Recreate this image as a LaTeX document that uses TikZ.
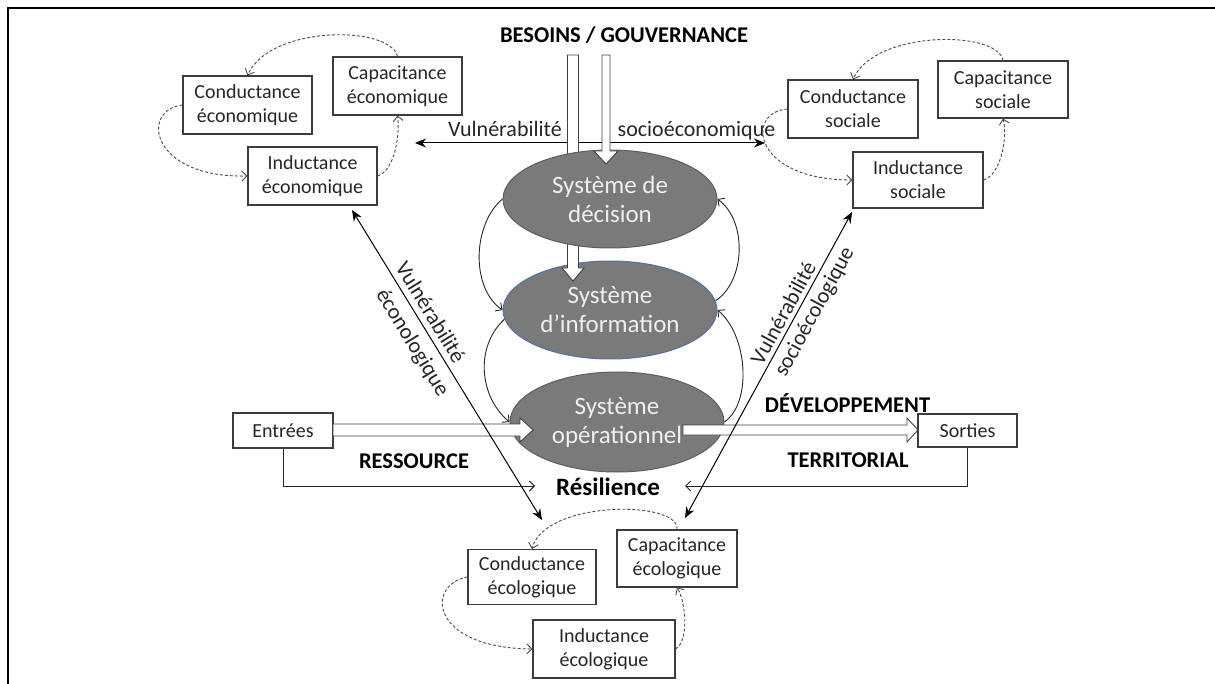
\documentclass[tikz,border=0pt]{standalone}
\usepackage{fontspec}
\setmainfont{Carlito}
\usetikzlibrary{arrows.meta,shapes.geometric}
\definecolor{boxc}{HTML}{3C3C3C}
\definecolor{txtc}{HTML}{262626}
\definecolor{ellfill}{HTML}{7A7A7A}
\definecolor{ellline}{HTML}{5E5E5E}
\definecolor{infoline}{HTML}{5471A0}
\definecolor{elltxt}{HTML}{EEEEEE}
\definecolor{dashc}{HTML}{4A4A4A}
\begin{document}
\begin{tikzpicture}[x=1pt,y=-1pt,
 box/.style={draw=boxc, line width=1.1pt, text=txtc, align=center, inner sep=0pt, font=\fontsize{20}{24}\selectfont},
 ell/.style={ellipse, fill=ellfill, draw=ellline, line width=1pt, minimum width=214pt, minimum height=98pt, inner sep=0pt, align=center, text=elltxt, font=\fontsize{25}{29}\selectfont},
 dsh/.style={draw=dashc, line width=0.9pt, dash pattern=on 3pt off 2pt, -{Straight Barb[length=5pt,width=10pt]}},
 thinarr/.style={draw=black!85, line width=0.9pt, -{Straight Barb[length=5pt,width=10pt]}},
 vul/.style={line width=1pt, {Stealth[length=11pt,width=9pt]}-{Stealth[length=11pt,width=9pt]}},
 lbl/.style={font=\fontsize{22}{26}\selectfont, text=txtc, inner sep=0pt},
 blbl/.style={font=\bfseries\fontsize{22.5}{26}\selectfont, text=black, inner sep=0pt},
 fat/.style={fill=white, draw=black!75, line width=0.9pt, line join=miter},
]
\useasboundingbox (0,0) rectangle (1215,684);
\fill[white] (0,0) rectangle (1215,684);
\draw[line width=1.6pt] (8,8) rectangle (1240,710);

% boxes
\node[box, minimum width=129pt, minimum height=58pt] (CondEco) at (247.5,105) {Conductance\\économique};
\node[box, minimum width=129pt, minimum height=58pt] (CapEco) at (397.5,86) {Capacitance\\économique};
\node[box, minimum width=129pt, minimum height=58pt] (IndEco) at (312.5,176) {Inductance\\économique};

\node[box, minimum width=130pt, minimum height=58pt] (CondSoc) at (853,109) {Conductance\\sociale};
\node[box, minimum width=130pt, minimum height=57pt] (CapSoc) at (1003,89.5) {Capacitance\\sociale};
\node[box, minimum width=130pt, minimum height=56pt] (IndSoc) at (918,180) {Inductance\\sociale};

\node[box, minimum width=128pt, minimum height=55pt] (CondEcol) at (532,577) {Conductance\\écologique};
\node[box, minimum width=120pt, minimum height=57pt] (CapEcol) at (677,558.5) {Capacitance\\écologique};
\node[box, minimum width=142pt, minimum height=58pt] (IndEcol) at (604,649) {Inductance\\écologique};

\node[box, minimum width=100pt, minimum height=35pt] (Entrees) at (283,430.5) {Entrées};
\node[box, minimum width=99pt, minimum height=33pt] (Sorties) at (967.5,430.5) {Sorties};

% labels
\node[blbl, anchor=base] (besoins) at (624,43) {BESOINS / GOUVERNANCE};
\node[blbl, anchor=base] (dev) at (847.5,412) {DÉVELOPPEMENT};
\node[blbl, anchor=base] (terr) at (848,467) {TERRITORIAL};
\node[blbl, anchor=base] (ress) at (414,468) {RESSOURCE};
\node[blbl, anchor=base, font=\bfseries\fontsize{25}{29}\selectfont] (res) at (608,495) {Résilience};

% vulnerabilite socioeconomique
\coordinate (vseL) at (415,143);
\coordinate (vseR) at (765,143);
\draw[vul] (vseL) -- (vseR);
\node[lbl, anchor=base] (vse1) at (505,137) {Vulnérabilité};
\node[lbl, anchor=base] (vse2) at (696.5,137) {socioéconomique};

% ellipses and fat arrows
\node[ell, draw=infoline] (info) at (610,310) {Système\\d’information};
\draw[fat] (567.5,55) -- (567.5,268) -- (562,268) -- (573,281) -- (584,268) -- (578.5,268) -- (578.5,55) -- cycle;
\node[ell] (dec) at (610,199) {Système de\\décision};
\draw[fat] (602,55) -- (602,151) -- (594,151) -- (606,164) -- (618,151) -- (610,151) -- (610,55) -- cycle;
\node[ell, minimum height=100pt] (op) at (617,422) {Système\\opérationnel};
\draw[fat] (333,424) -- (520,424) -- (520,418) -- (533,430) -- (520,442) -- (520,436) -- (333,436) -- cycle;
\draw[fat] (683,425) -- (907,425) -- (907,418) -- (918,430) -- (907,442) -- (907,435) -- (683,435) -- cycle;

% loops between the systems
\draw[thinarr] (dec.west) .. controls +(-30,25) and +(-32,-22) .. (info.west);
\draw[thinarr] (info.185) .. controls +(-30,28) and +(-30,-25) .. (op.west);
\draw[thinarr] (op.east) .. controls +(28,-20) and +(30,25) .. (info.east);
\draw[thinarr] (info.5) .. controls +(30,-20) and +(30,22) .. (dec.east);

% inputs / outputs to resilience
\coordinate (rinL) at (535,486);
\coordinate (rinR) at (685,486);
\draw[thinarr] (Entrees.south) |- (rinL);
\draw[thinarr] (Sorties.south) |- (rinR);

% vulnerabilites obliques
\coordinate (veT) at (352,210);
\coordinate (veB) at (542,520);
\draw[vul] (veT) -- (veB);
\node[lbl, rotate=-58.5] (ve1) at (431,312) {Vulnérabilité};
\node[lbl, rotate=-58.5] (ve2) at (412,343) {éconologique};
\coordinate (vsB) at (685,518);
\coordinate (vsT) at (852,212);
\draw[vul] (vsB) -- (vsT);
\node[lbl, rotate=61.4] (vs1) at (783,313) {Vulnérabilité};
\node[lbl, rotate=61.4] (vs2) at (815,312) {socioécologique};

% dashed cycles
\draw[dsh] (CapEco.north) .. controls (390,25) and (270,25) .. (CondEco.north);
\draw[dsh] (CondEco.west) .. controls (140,110) and (150,178) .. (IndEco.west);
\draw[dsh] (IndEco.east) .. controls (395,170) and (400,135) .. (CapEco.south);

\draw[dsh] (CapSoc.north) .. controls (998,30) and (875,30) .. (CondSoc.north);
\draw[dsh] (CondSoc.west) .. controls (745,112) and (752,180) .. (IndSoc.west);
\draw[dsh] (IndSoc.east) .. controls (1000,175) and (1008,140) .. (CapSoc.south);

\draw[dsh] (CapEcol.north) .. controls (680,500) and (545,500) .. (CondEcol.north);
\draw[dsh] (CondEcol.west) .. controls (425,585) and (430,648) .. (IndEcol.west);
\draw[dsh] (IndEcol.east) .. controls (690,640) and (685,600) .. (CapEcol.south);
\end{tikzpicture}
\end{document}
